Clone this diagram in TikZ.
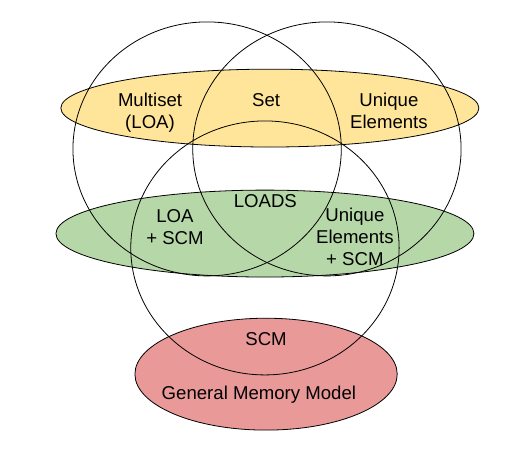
\documentclass[tikz,border=0pt]{standalone}
\usepackage{fontspec}
\setmainfont{Liberation Sans}
\usetikzlibrary{backgrounds}
\definecolor{setyellow}{HTML}{FFE599}
\definecolor{scmgreen}{HTML}{B6D7A8}
\definecolor{gmmred}{HTML}{EA9999}
\newcommand{\ringrx}{3.55}
\newcommand{\ringry}{3.36}
\newcommand{\linew}{0.6pt}

\begin{document}
\begin{tikzpicture}[every node/.style={font=\fontsize{14}{16.5}\selectfont, align=center, inner sep=0pt, anchor=base}]
\useasboundingbox (0,0) rectangle (13.785,-11.906);
\coordinate (loaring) at (5.48, -3.94);
\coordinate (uniquering) at (8.65, -3.94);
\coordinate (scmring) at (7.01, -6.56);
\coordinate (setband) at (7.14, -2.86);
\coordinate (loadsband) at (7.01, -6.18);
\coordinate (gmmband) at (7.04, -9.90);
%bands
\begin{scope}[on background layer]
\filldraw[fill=setyellow, line width=\linew] (setband) ellipse [x radius=5.53, y radius=1.03];
\filldraw[fill=scmgreen, line width=\linew] (loadsband) ellipse [x radius=5.53, y radius=1.15];
\filldraw[fill=gmmred, line width=\linew] (gmmband) ellipse [x radius=3.47, y radius=1.48];
\end{scope}
%rings
\draw[line width=\linew] (loaring) ellipse [x radius=\ringrx, y radius=\ringry];
\draw[line width=\linew] (uniquering) ellipse [x radius=\ringrx, y radius=\ringry];
\draw[line width=\linew] (scmring) ellipse [x radius=\ringrx, y radius=\ringry];
%labels (base = last line)
\node (multiset) at (3.97, -3.41) {Multiset\\(LOA)};
\node (setlbl) at (7.04, -2.83) {Set};
\node (unique) at (10.29, -3.41) {Unique\\Elements};
\node (loads) at (7.02, -5.50) {LOADS};
\node (loascm) at (4.63, -6.48) {LOA\\+ SCM};
\node (uniquescm) at (9.39, -7.03) {Unique\\Elements\\+ SCM};
\node (scm) at (7.04, -9.13) {SCM};
\node (gmm) at (6.85, -10.58) {General Memory Model};
\end{tikzpicture}
\end{document}
